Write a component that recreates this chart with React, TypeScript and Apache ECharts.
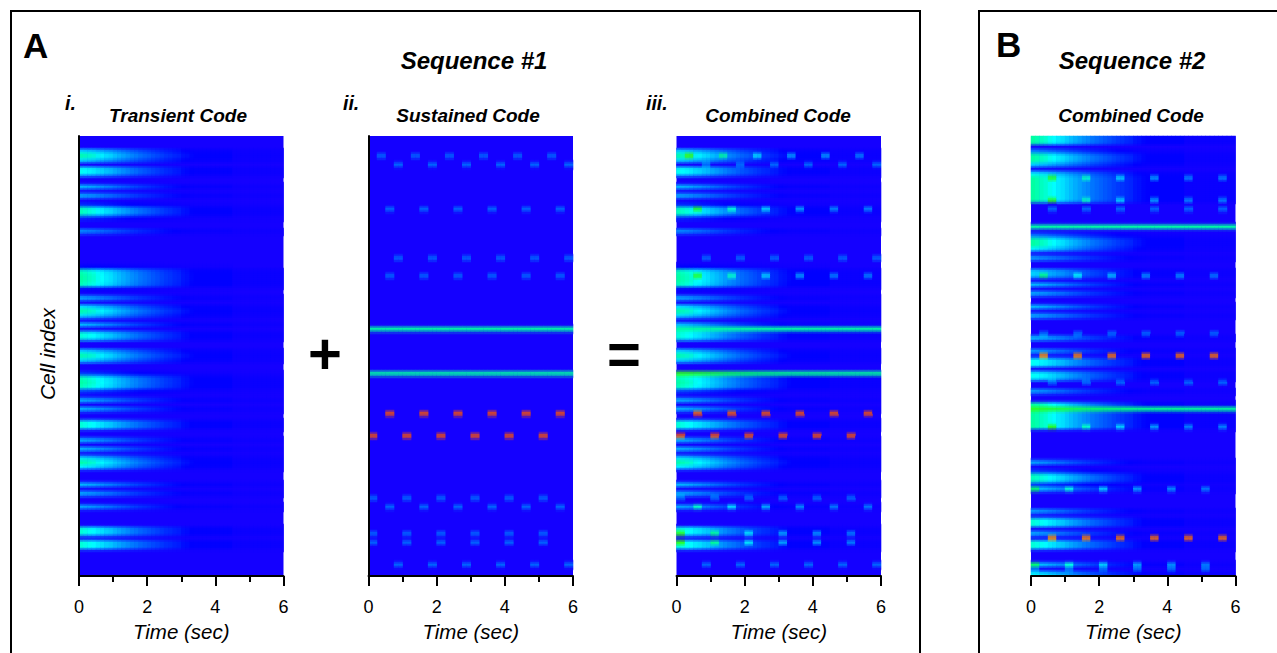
import React, { useEffect, useRef } from "react";
import * as echarts from "echarts";

const FONT = '"Liberation Sans", Arial, sans-serif';
const ROW_COUNT = 99;

const DECAY = [
  0.36, 0.35, 0.34, 0.33, 0.31, 0.3, 0.28, 0.27, 0.25, 0.235, 0.22, 0.205,
  0.19, 0.18, 0.165, 0.155, 0.145, 0.135, 0.125, 0.115, 0.105, 0.1, 0.09, 0.085,
  0.07, 0.065, 0.055, 0.05, 0.05, 0.05, 0.05, 0.05, 0.05, 0.05, 0.05, 0.05,
  0.025, 0.025, 0.025, 0.025, 0.025, 0.025, 0.025, 0.025, 0.025, 0.025, 0.025, 0.025,
];

// [cell row, strength]
const TRANSIENT_1: [number, number][] = [
  [3, 0.75], [4, 1], [5, 0.75], [7, 0.85], [8, 0.85], [11, 0.65], [13, 0.65],
  [15, 0.25], [16, 0.95], [17, 0.95], [18, 0.25], [21, 0.55],
  [29, 0.15], [30, 0.95], [31, 1], [32, 1], [33, 0.95], [34, 0.15], [36, 0.65], [38, 0.75], [39, 1], [40, 0.75],
  [42, 0.65], [44, 0.9], [45, 0.9], [48, 0.75], [49, 1], [50, 0.75],
  [53, 0.3], [54, 0.95], [55, 1], [56, 0.95], [57, 0.3], [59, 0.65], [61, 0.65],
  [64, 0.9], [65, 0.9], [68, 0.65], [70, 0.65], [72, 0.75], [73, 1], [74, 0.8],
  [78, 0.65], [80, 0.65], [83, 0.6], [88, 0.9], [89, 0.9], [91, 0.9], [92, 0.9],
];
const TRANSIENT_2: [number, number][] = [
  [0, 1], [1, 1], [3, 0.5], [4, 1], [5, 1], [6, 0.7], [8, 0.8], [9, 1], [10, 1], [11, 1], [12, 1], [13, 1], [14, 1],
  [22, 0.5], [23, 1], [24, 1], [25, 0.8], [27, 0.6], [30, 0.7], [31, 0.7], [33, 0.65], [35, 0.65],
  [38, 0.65], [40, 0.65], [45, 0.7], [48, 0.6], [50, 0.85], [51, 0.85], [53, 0.85], [54, 0.85],
  [57, 0.6], [60, 1], [61, 0.3], [62, 1], [63, 1], [64, 1], [65, 1],
  [73, 0.6], [75, 0.3], [76, 0.95], [77, 0.95], [78, 0.3], [79, 0.7], [84, 0.6], [86, 0.9], [87, 0.9], [89, 0.65],
  [91, 0.9], [92, 0.9], [96, 0.7], [98, 0.8],
];

// Pulse onsets (sec) of the four phases seen in the sustained code.
const ONSETS_00 = [0, 1, 2, 3, 4, 5];
const ONSETS_25 = [0.25, 1.25, 2.25, 3.25, 4.25, 5.25];
const ONSETS_50 = [0.5, 1.5, 2.5, 3.5, 4.5, 5.5];
const ONSETS_75 = [0.75, 1.75, 2.75, 3.75, 4.75, 5.75];

// [cell row, onsets, level]
const PULSES_1: [number, number[], number][] = [
  [4, ONSETS_25, 0.15], [6, ONSETS_75, 0.15], [16, ONSETS_50, 0.15], [27, ONSETS_75, 0.15],
  [31, ONSETS_50, 0.15], [62, ONSETS_50, 0.8], [67, ONSETS_00, 0.8], [81, ONSETS_00, 0.15],
  [83, ONSETS_50, 0.15], [89, ONSETS_00, 0.15], [91, ONSETS_00, 0.15], [96, ONSETS_75, 0.15],
];
const PULSES_2: [number, number[], number][] = [
  [9, ONSETS_50, 0.15], [14, ONSETS_50, 0.15], [16, ONSETS_50, 0.15], [31, ONSETS_25, 0.15],
  [44, ONSETS_25, 0.15], [49, ONSETS_25, 0.77], [55, ONSETS_50, 0.15], [65, ONSETS_50, 0.15],
  [79, ONSETS_00, 0.15], [90, ONSETS_50, 0.77], [96, ONSETS_00, 0.15], [97, ONSETS_00, 0.15],
];
// [cell row, level] of cells firing for the whole trial
const TONIC_1: [number, number][] = [[43, 0.36], [53, 0.36]];
const TONIC_2: [number, number][] = [[20, 0.36], [61, 0.36]];

const TICK_LABELS: Record<number, string> = { 0: "0", 2: "2", 4: "4", 6: "6" };

// Colour at each 0.05 of cell level.
const COLORMAP: [number, number, number][] = [
  [20, 0, 255], [0, 0, 255], [0, 51, 255], [0, 102, 255], [0, 153, 255], [0, 204, 255], [0, 255, 255],
  [0, 255, 176], [0, 255, 112], [32, 255, 48], [64, 255, 0], [128, 255, 0], [192, 255, 0], [255, 255, 0],
  [255, 192, 0], [255, 128, 0], [240, 80, 16], [255, 32, 0], [255, 0, 0],
];

const BINS = DECAY.length;
const PLOT_H = 440;
const SUB_H = 2;
const SUB_ROWS = PLOT_H / SUB_H;

function cellTable(
  transient: [number, number][],
  pulses: [number, number[], number][],
  tonic: [number, number][],
) {
  const t: number[][] = [];
  for (let r = 0; r < ROW_COUNT; r++) t.push(new Array(BINS).fill(0));
  transient.forEach(([r, a]) => DECAY.forEach((d, b) => (t[r][b] += a * d)));
  pulses.forEach(([r, on, v]) =>
    on.forEach((s) => {
      const b = Math.round(s / 0.125);
      t[r][b] += v;
      if (b + 1 < BINS) t[r][b + 1] += v;
    }),
  );
  tonic.forEach(([r, v]) => t[r].forEach((_, b) => (t[r][b] += v)));
  return t;
}

function toRgb(v: number) {
  const p = Math.min(COLORMAP.length - 1, Math.max(0, v / 0.05));
  const i = Math.min(COLORMAP.length - 2, Math.floor(p));
  const f = p - i;
  return COLORMAP[i].map((c, k) => c * (1 - f) + COLORMAP[i + 1][k] * f);
}

// The reference image is a colour image resampled between rows; draw it the same way.
function display(table: number[][]) {
  const rgb = table.map((row) => row.map(toRgb));
  const out: any[] = [];
  for (let j = 0; j < SUB_ROWS; j++) {
    const pos = (((j + 0.5) * SUB_H) / PLOT_H) * ROW_COUNT - 0.5;
    const r0 = Math.max(0, Math.floor(pos));
    const r1 = Math.min(ROW_COUNT - 1, r0 + 1);
    const f = Math.min(1, Math.max(0, pos - r0));
    for (let b = 0; b < BINS; b++) {
      if (table[r0][b] < 0.004 && table[r1][b] < 0.004) continue;
      const c = rgb[r0][b].map((x, k) => Math.round(x * (1 - f) + rgb[r1][b][k] * f));
      out.push({ value: [b, j, table[r0][b]], itemStyle: { color: `rgb(${c[0]},${c[1]},${c[2]})` } });
    }
  }
  return out;
}

const PANELS = [
  { left: 79, spine: true, table: cellTable(TRANSIENT_1, [], []) },
  { left: 368.5, spine: true, table: cellTable([], PULSES_1, TONIC_1) },
  { left: 676.5, spine: false, table: cellTable(TRANSIENT_1, PULSES_1, TONIC_1) },
  { left: 1031, spine: false, table: cellTable(TRANSIENT_2, PULSES_2, TONIC_2) },
];

const label = (text: string, x: number, y: number, size: number, extra: any = {}) => ({
  type: "text",
  x,
  y,
  rotation: extra.rotation ?? 0,
  silent: true,
  style: {
    text,
    fill: "#000",
    font: `${extra.style ?? "italic"} ${extra.weight ?? "bold"} ${size}px ${FONT}`,
    align: extra.align ?? "center",
    verticalAlign: "middle",
  },
});

export default function App() {
  const ref = useRef<HTMLDivElement>(null);
  useEffect(() => {
    const chart = echarts.init(ref.current!, undefined, { renderer: "svg" });
    const bins = DECAY.map((_, i) => String(i));
    const subs = Array.from({ length: SUB_ROWS }, (_, i) => String(i));
    chart.setOption({
      animation: false,
      backgroundColor: "#fff",
      grid: PANELS.map((p) => ({
        left: p.left,
        top: 136,
        width: 204.5,
        height: PLOT_H,
        backgroundColor: "#1400ff",
        show: true,
        borderWidth: 0,
        containLabel: false,
      })),
      xAxis: PANELS.flatMap((_, k) => [
        { type: "category", gridIndex: k, data: bins, show: false },
        {
          type: "value",
          gridIndex: k,
          position: "bottom",
          min: 0,
          max: 6,
          interval: 2,
          z: 10,
          axisLine: { show: true, onZero: false, lineStyle: { color: "#000", width: 2 } },
          axisTick: { show: true, length: 10, lineStyle: { color: "#000", width: 2 } },
          minorTick: { show: true, splitNumber: 2, length: 6, lineStyle: { color: "#000", width: 2 } },
          splitLine: { show: false },
          minorSplitLine: { show: false },
          axisLabel: {
            margin: 22,
            color: "#000",
            fontFamily: FONT,
            fontSize: 18,
            formatter: (v: number) => TICK_LABELS[v] ?? "",
          },
          name: "Time (sec)",
          nameLocation: "middle",
          nameGap: 45,
          nameTextStyle: { color: "#000", fontFamily: FONT, fontSize: 20.5, fontStyle: "italic" },
        },
      ]),
      yAxis: PANELS.map((p, k) => ({
        type: "category",
        gridIndex: k,
        inverse: true,
        data: subs,
        show: p.spine,
        z: 10,
        axisLine: { show: p.spine, lineStyle: { color: "#000", width: 2 } },
        axisTick: { show: false },
        axisLabel: { show: false },
        splitLine: { show: false },
      })),
      visualMap: {
        show: false,
        type: "continuous",
        min: 0,
        max: 2,
        dimension: 2,
        seriesIndex: PANELS.map((_, k) => k),
        inRange: { opacity: [1, 1] },
        outOfRange: { opacity: [1, 1] },
      },
      series: PANELS.map((p, k) => ({
        type: "heatmap",
        xAxisIndex: 2 * k,
        yAxisIndex: k,
        data: display(p.table),
        progressive: 0,
        emphasis: { disabled: true },
        itemStyle: { borderWidth: 0 },
      })),
      graphic: {
        elements: [
          { type: "rect", silent: true, shape: { x: 11, y: 11, width: 909, height: 700 }, style: { fill: "none", stroke: "#000", lineWidth: 2 } },
          { type: "rect", silent: true, shape: { x: 979, y: 11, width: 400, height: 700 }, style: { fill: "none", stroke: "#000", lineWidth: 2 } },
          label("A", 23, 45, 35, { align: "left", style: "normal" }),
          label("B", 996, 44, 35, { align: "left", style: "normal" }),
          label("Sequence #1", 474, 60, 24),
          label("Sequence #2", 1132, 60, 24),
          label("Transient Code", 178, 115, 19),
          label("Sustained Code", 468, 115, 19),
          label("Combined Code", 778, 115, 19),
          label("Combined Code", 1131, 115, 19),
          label("i.", 65, 103, 19.5, { align: "left" }),
          label("ii.", 343, 103, 19.5, { align: "left" }),
          label("iii.", 646, 103, 19.5, { align: "left" }),
          label("Cell index", 47, 354, 21, { rotation: Math.PI / 2, weight: "normal" }),
          label("+", 325, 353, 58, { style: "normal" }),
          label("=", 624, 353, 58, { style: "normal" }),
        ],
      },
    });
    return () => chart.dispose();
  }, []);
  return <div ref={ref} style={{ position: "fixed", left: 0, top: 0, width: 1277, height: 653 }} />;
}
